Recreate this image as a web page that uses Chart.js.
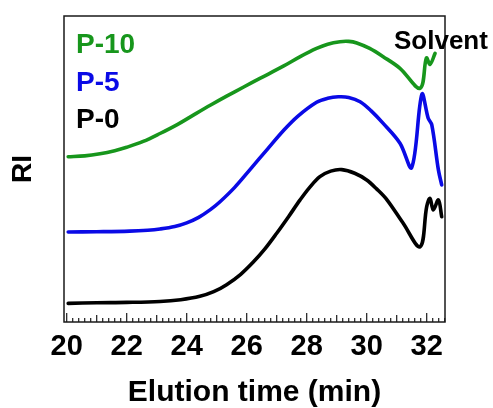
<!DOCTYPE html>
<html>
<head>
<meta charset="utf-8">
<script src="https://cdn.jsdelivr.net/npm/chart.js@4"></script>
<style>
  html, body { margin: 0; padding: 0; background: #fff; }
  #wrap { width: 493px; height: 408px; }
</style>
</head>
<body>
<div id="wrap"><canvas id="gpc"></canvas></div>
<script>
// GPC traces (refractive index, arbitrary units, offset per sample)
const seriesNames = ['P-10', 'P-5', 'P-0'];

const p10Time = [20.05, 20.6, 21.11, 21.6, 22.0, 22.55, 23.11, 23.7, 24.22, 24.8, 25.33, 25.9, 26.44, 27.22, 27.8, 28.33, 28.7, 29.11, 29.4, 29.67, 30.1, 30.55, 31.11, 31.78, 31.99, 32.11, 32.28];
const p10RI   = [54.0, 54.3, 55.0, 56.0, 57.1, 59.0, 61.6, 64.6, 67.6, 70.9, 73.8, 76.8, 79.6, 83.6, 86.8, 89.4, 90.8, 91.6, 91.7, 91.2, 89.4, 86.7, 82.9, 76.4, 86.3, 84.2, 87.8];

const p5Time = [20.05, 21.0, 22.1, 22.7, 23.11, 23.6, 24.0, 24.4, 24.8, 25.11, 25.6, 26.11, 26.7, 27.22, 27.7, 28.33, 28.7, 29.05, 29.4, 29.78, 30.15, 30.55, 31.11, 31.5, 31.84, 32.05, 32.17, 32.39, 32.5];
const p5RI   = [29.4, 29.5, 29.7, 30.0, 30.4, 31.2, 32.4, 34.2, 36.8, 39.3, 44.0, 49.8, 56.6, 62.5, 67.2, 71.8, 73.1, 73.6, 73.4, 72.0, 69.0, 64.9, 58.4, 50.5, 74.4, 66.6, 64.4, 49.7, 44.8];

const p0Time = [20.05, 21.0, 22.0, 23.11, 23.8, 24.44, 24.9, 25.33, 25.8, 26.22, 26.6, 27.0, 27.4, 27.78, 28.1, 28.44, 28.8, 29.17, 29.6, 30.0, 30.33, 30.67, 31.2, 31.78, 32.0, 32.11, 32.22, 32.39, 32.5];
const p0RI   = [6.1, 6.3, 6.4, 6.7, 7.3, 8.4, 9.9, 12.2, 15.6, 19.6, 23.8, 29.0, 34.5, 39.9, 44.0, 47.5, 49.3, 49.8, 48.6, 46.4, 43.5, 40.0, 32.5, 24.6, 37.7, 40.4, 36.6, 39.9, 34.4];

const xTickValues = [20, 22, 24, 26, 28, 30, 32];
const seriesColors = ['#17961c', '#0a0ae6', '#000000'];

const FONT = '"Liberation Sans", Arial, sans-serif';

function toPoints(xs, ys) {
  return xs.map((x, i) => ({ x: x, y: ys[i] }));
}

const datasets = [
  { label: seriesNames[0], data: toPoints(p10Time, p10RI) },
  { label: seriesNames[1], data: toPoints(p5Time, p5RI) },
  { label: seriesNames[2], data: toPoints(p0Time, p0RI) }
].map((d, i) => Object.assign(d, {
  borderColor: seriesColors[i],
  borderWidth: 3.6,
  borderJoinStyle: 'round',
  borderCapStyle: 'round',
  pointRadius: 0,
  showLine: true,
  fill: false,
  tension: 0.35
}));

// Frame, inward minor/major ticks on the time axis, sample labels and the solvent note
const decorations = {
  id: 'decorations',
  afterDraw(chart) {
    const { ctx, chartArea: a } = chart;
    const xs = chart.scales.x;
    ctx.save();
    ctx.strokeStyle = '#1a1a1a';
    ctx.lineWidth = 1.5;
    ctx.strokeRect(a.left, a.top, a.right - a.left, a.bottom - a.top);

    ctx.lineWidth = 1.2;
    for (let i = 0; i <= 63; i++) {
      const v = 20 + i * 0.2;
      if (v > xs.max) break;
      const px = xs.getPixelForValue(v);
      let len = 4;
      if (i % 10 === 0) len = 9;
      else if (i % 5 === 0) len = 7;
      ctx.beginPath();
      ctx.moveTo(px, a.bottom);
      ctx.lineTo(px, a.bottom - len);
      ctx.stroke();
    }

    ctx.textAlign = 'left';
    ctx.textBaseline = 'alphabetic';
    ctx.font = 'bold 28px ' + FONT;
    const baselines = [53, 91, 128];
    chart.data.datasets.forEach((d, i) => {
      ctx.fillStyle = d.borderColor;
      ctx.fillText(d.label, a.left + 12, baselines[i]);
    });

    ctx.fillStyle = '#000';
    ctx.font = 'bold 26px ' + FONT;
    ctx.fillText('Solvent', 394, 49);
    ctx.restore();
  }
};

new Chart(document.getElementById('gpc'), {
  type: 'scatter',
  data: { datasets: datasets },
  plugins: [decorations],
  options: {
    responsive: true,
    maintainAspectRatio: false,
    animation: false,
    events: [],
    layout: { padding: { left: 4, right: 48, top: 16, bottom: 0 } },
    plugins: { legend: { display: false }, tooltip: { enabled: false } },
    scales: {
      x: {
        type: 'linear',
        min: 19.91,
        max: 32.61,
        afterBuildTicks(scale) {
          scale.ticks = xTickValues.map(v => ({ value: v }));
        },
        grid: { display: false, drawTicks: false },
        border: { display: false },
        ticks: {
          padding: 10.5,
          color: '#000',
          font: { family: FONT, size: 29, weight: 'bold', lineHeight: 1 },
          maxRotation: 0,
          autoSkip: false
        },
        title: {
          display: true,
          text: 'Elution time (min)',
          color: '#000',
          font: { family: FONT, size: 30, weight: 'bold', lineHeight: 1 },
          padding: { top: 6, bottom: 0 }
        }
      },
      y: {
        type: 'linear',
        min: 0,
        max: 100,
        grid: { display: false, drawTicks: false },
        border: { display: false },
        ticks: { display: false },
        title: {
          display: true,
          text: 'RI',
          color: '#000',
          font: { family: FONT, size: 28, weight: 'bold', lineHeight: 1 },
          padding: { top: 5, bottom: 27 }
        }
      }
    }
  }
});
</script>
</body>
</html>
